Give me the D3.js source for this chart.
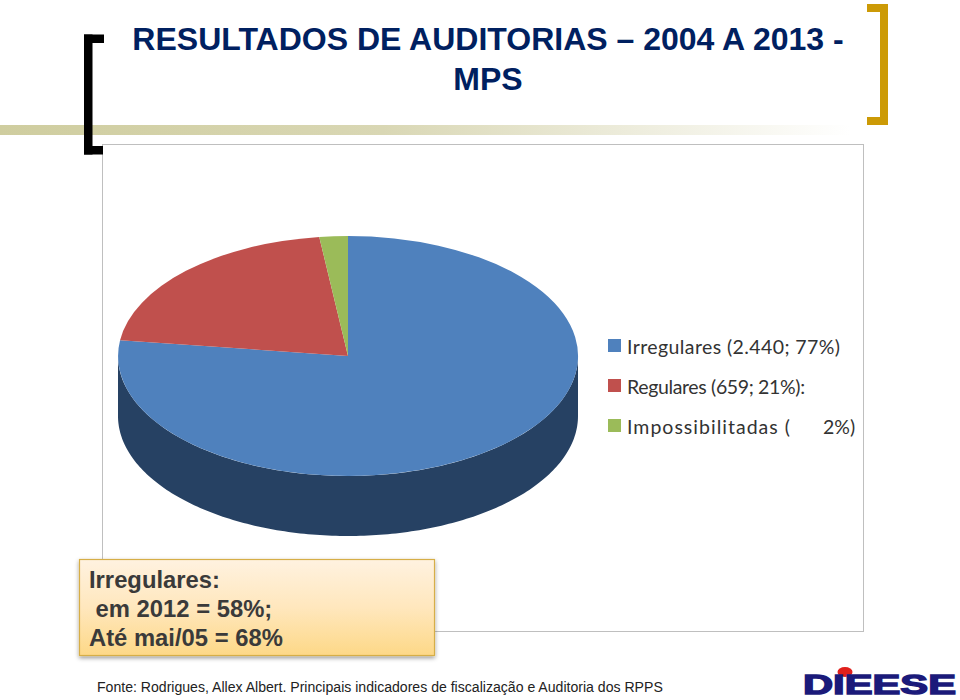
<!DOCTYPE html>
<html>
<head>
<meta charset="utf-8">
<script src="https://cdnjs.cloudflare.com/ajax/libs/d3/7.8.5/d3.min.js"></script>
<style>
html,body{margin:0;padding:0;background:#fff;overflow:hidden}
svg{display:block}
.sans{font-family:"Liberation Sans",Arial,sans-serif}
</style>
</head>
<body>
<svg id="c" width="960" height="700" viewBox="0 0 960 700"></svg>
<script>
const categories = ["Irregulares", "Regulares", "Impossibilitadas"];
const shares = [77.1, 20.9, 2.0];
const legendLabels = ["Irregulares (2.440; 77%)", "Regulares (659; 21%):", "Impossibilitadas ("];
const legendTail = ["", "", "2%)"];
const colors = ["#4f81bd", "#c0504d", "#9bbb59"];
const sideColor = "#264163";
const titleLines = ["RESULTADOS DE AUDITORIAS – 2004 A 2013 -", "MPS"];
const noteLines = ["Irregulares:", "\u00A0em 2012 = 58%;", "Até mai/05 = 68%"];
const sourceText = "Fonte: Rodrigues, Allex Albert. Principais indicadores de fiscalização e Auditoria dos RPPS";

const svg = d3.select("#c");
const defs = svg.append("defs");

const band = defs.append("linearGradient").attr("id","band");
band.append("stop").attr("offset","0").attr("stop-color","#cfcd9f");
band.append("stop").attr("offset","0.45").attr("stop-color","#d9d7b4");
band.append("stop").attr("offset","1").attr("stop-color","#ffffff");

const noteFill = defs.append("linearGradient").attr("id","note").attr("x1",0).attr("x2",0).attr("y1",0).attr("y2",1);
noteFill.append("stop").attr("offset","0").attr("stop-color","#fff2e0");
noteFill.append("stop").attr("offset","0.5").attr("stop-color","#ffe7bd");
noteFill.append("stop").attr("offset","1").attr("stop-color","#fdd887");

const shadow = defs.append("filter").attr("id","sh").attr("x","-5%").attr("y","-10%").attr("width","110%").attr("height","125%");
shadow.append("feDropShadow").attr("dx",0).attr("dy",2).attr("stdDeviation",2).attr("flood-color","#000").attr("flood-opacity",0.4);

// header band
svg.append("rect").attr("x",0).attr("y",125).attr("width",850).attr("height",10).attr("fill","url(#band)");

// chart frame
svg.append("rect").attr("x",102.5).attr("y",144.5).attr("width",761).attr("height",487)
  .attr("fill","#fff").attr("stroke","#bfbfbf").attr("stroke-width",1);

// brackets
const bracket = (x,y,w,h,t,side,col) => {
  const g = svg.append("g").attr("fill",col);
  g.append("rect").attr("x",x).attr("y",y).attr("width",w).attr("height",t);
  g.append("rect").attr("x",x).attr("y",y+h-t).attr("width",w-1).attr("height",t);
  g.append("rect").attr("x",side==="l"?x:x+w-t).attr("y",y).attr("width",t).attr("height",h);
};
bracket(84,34.5,20,120,8.5,"l","#000");
bracket(867,4,21,121,8,"r","#cc9a06");

// title
svg.append("g").attr("class","sans").attr("fill","#002060").attr("font-weight",700).attr("font-size",32)
  .selectAll("text").data(titleLines).join("text")
  .attr("x",488).attr("y",(d,i)=>50+i*39.5).attr("text-anchor","middle").text(d=>d);

// pie
const cx = 348, cy = 356, rx = 230, ry = 120, depth = 60;
const pie = d3.pie().sort(null).value(d=>d)(shares);
const px = d3.scaleLinear().domain([-1,1]).range([cx-rx,cx+rx]);
const py = d3.scaleLinear().domain([-1,1]).range([cy-ry,cy+ry]);
const rimAngles = d3.range(181).map(i=>Math.PI/2 + Math.PI*i/180);
const side = [...rimAngles.map(a=>[px(Math.sin(a)), py(-Math.cos(a))+depth]),
              ...rimAngles.slice().reverse().map(a=>[px(Math.sin(a)), py(-Math.cos(a))])];
svg.append("path").attr("d",d3.line()(side)+"Z").attr("fill",sideColor);

const arc = d3.arc().innerRadius(0).outerRadius(1);
svg.append("g").attr("transform",`translate(${cx},${cy}) scale(${rx},${ry})`)
  .selectAll("path").data(pie).join("path")
  .attr("d",arc).attr("fill",(d,i)=>colors[i]);

// legend
const legendWidth = [213, 178, 163];
const lg = svg.append("g").selectAll("g").data(legendLabels).join("g")
  .attr("transform",(d,i)=>`translate(608,${339+i*40})`);
lg.append("rect").attr("width",13).attr("height",13).attr("fill",(d,i)=>colors[i]);
const legendText = lg.append("text").attr("y",15)
  .attr("font-family","Lato, Carlito, sans-serif").attr("font-size",19.5).attr("fill","#333");
legendText.append("tspan").attr("x",19)
  .attr("textLength",(d,i)=>legendWidth[i]).attr("lengthAdjust","spacing").text(d=>d);
legendText.append("tspan").attr("x",215).text((d,i)=>legendTail[i]);

// note box
svg.append("rect").attr("x",79.5).attr("y",559.5).attr("width",355).attr("height",96)
  .attr("fill","url(#note)").attr("stroke","#d6ae46").attr("stroke-width",1.2).attr("filter","url(#sh)");
svg.append("g").attr("class","sans").attr("fill","#3a3a3a").attr("font-weight",700).attr("font-size",23.8)
  .selectAll("text").data(noteLines).join("text")
  .attr("x",89).attr("y",(d,i)=>588+i*29).text(d=>d);

// source
svg.append("text").attr("class","sans").attr("x",97).attr("y",692).attr("font-size",14.08).attr("fill","#222").text(sourceText);

// logo
svg.append("ellipse").attr("cx",845).attr("cy",672).attr("rx",7.5).attr("ry",5).attr("fill","#e0201c");
svg.append("text").attr("class","sans").attr("x",803).attr("y",694).attr("font-size",27).attr("font-weight",700)
  .attr("fill","#1b1a7a").attr("stroke","#1b1a7a").attr("stroke-width",1.4)
  .attr("textLength",153).attr("lengthAdjust","spacingAndGlyphs").text("DIEESE");
</script>
</body>
</html>
